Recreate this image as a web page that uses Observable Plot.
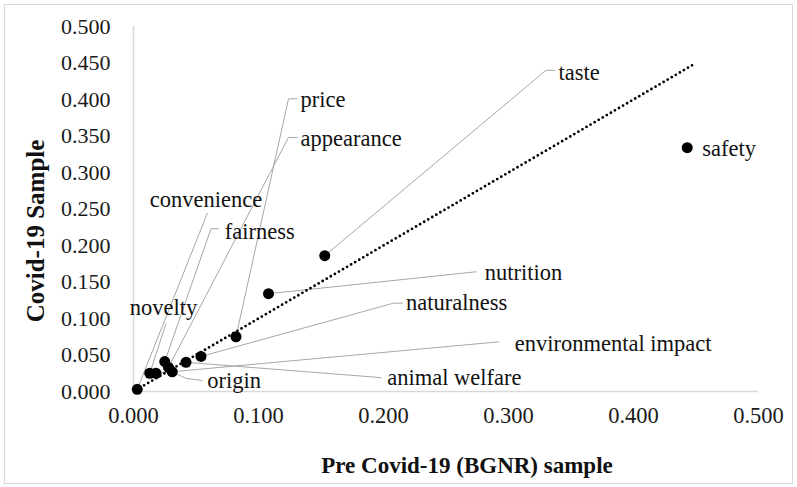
<!DOCTYPE html>
<html><head><meta charset="utf-8">
<script src="https://cdn.jsdelivr.net/npm/d3@7"></script>
<script src="https://cdn.jsdelivr.net/npm/@observablehq/plot@0.6"></script>
<style>
html,body{margin:0;padding:0;background:#fff;overflow:hidden;}
#wrap{position:relative;width:797px;height:487px;}
#border{position:absolute;left:4px;top:4px;width:789px;height:480px;border:1px solid #d9d9d9;box-sizing:border-box;pointer-events:none;}
</style></head><body><div id="wrap"><div id="border"></div></div>
<script>
// --- data ---
const attributes = ["safety","taste","nutrition","price","naturalness","animal welfare","fairness","appearance","origin","environmental impact","novelty","convenience"];
const preCovidShare = [0.443,0.153,0.108,0.082,0.054,0.042,0.025,0.028,0.031,0.018,0.013,0.003];
const covidShare    = [0.334,0.186,0.134,0.075,0.048,0.040,0.041,0.033,0.027,0.025,0.025,0.003];
// label anchor positions (data units)
const labelX = [0.455,0.340,0.281,0.1336,0.218,0.203,0.073,0.1336,0.059,0.305,0.024,0.058];
const labelY = [0.333,0.437,0.162,0.399,0.121,0.019,0.219,0.346,0.014,0.066,0.114,0.262];
// leader line bend and end points (data units); null = none
const leaderBendX = [null,0.330,null,0.124,0.208,null,0.062,0.124,0.042,null,null,null];
const leaderBendY = [null,0.440,null,0.401,0.121,null,0.223,0.348,0.018,null,null,null];
const leaderEndX  = [null,0.337,0.274,0.131,0.215,0.198,0.068,0.131,0.055,0.292,0.026,0.059];
const leaderEndY  = [null,0.440,0.164,0.401,0.121,0.019,0.223,0.348,0.015,0.068,0.093,0.244];
const centeredLabels = ["novelty","convenience"];
// dotted y = x reference line extent
const diagonalExtent = [0.002, 0.447];
// tick values
const xTickValues = [0,0.1,0.2,0.3,0.4,0.5];
const yTickValues = [0,0.05,0.1,0.15,0.2,0.25,0.3,0.35,0.4,0.45,0.5];

// --- derived tables ---
const points = attributes.map((a,i)=>({a, x:preCovidShare[i], y:covidShare[i]}));
const leaders = [];
attributes.forEach((a,i)=>{
  if (leaderEndX[i]==null) return;
  leaders.push({a, x:preCovidShare[i], y:covidShare[i]});
  if (leaderBendX[i]!=null) leaders.push({a, x:leaderBendX[i], y:leaderBendY[i]});
  leaders.push({a, x:leaderEndX[i], y:leaderEndY[i]});
});
const labels = attributes.map((a,i)=>({a, x:labelX[i], y:labelY[i]}));
const diagonal = diagonalExtent.map(v=>({x:v,y:v}));

const font = "'Liberation Serif','Times New Roman',serif";
const chart = Plot.plot({
  width: 797, height: 487,
  marginLeft: 133, marginRight: 39, marginTop: 26, marginBottom: 96,
  style: {fontFamily: font, fontSize: "22px", color: "#1a1a1a", background: "transparent"},
  x: {domain:[0,0.5]},
  y: {domain:[0,0.5]},
  marks: [
    Plot.ruleY([0], {stroke:"#d9d9d9", strokeWidth:1.5}),
    Plot.ruleX([0], {stroke:"#d9d9d9", strokeWidth:1.5}),
    Plot.axisX(xTickValues, {tickSize:0, tickPadding:16, tickFormat:d3.format(".3f"), fontSize:22.5, label:null}),
    Plot.axisY(yTickValues, {tickSize:0, tickPadding:23, tickFormat:d3.format(".3f"), fontSize:22, label:null}),
    Plot.line(leaders, {x:"x", y:"y", z:"a", stroke:"#a6a6a6", strokeWidth:1}),
    Plot.line(diagonal, {x:"x", y:"y", stroke:"black", strokeWidth:2.8, strokeDasharray:"0,4.7", strokeLinecap:"round"}),
    Plot.dot(points, {x:"x", y:"y", r:5.5, fill:"black", stroke:"none"}),
    Plot.text(labels.filter(d=>!centeredLabels.includes(d.a)), {x:"x", y:"y", text:"a", textAnchor:"start", fontSize:22.5, fill:"#111"}),
    Plot.text(labels.filter(d=>centeredLabels.includes(d.a)), {x:"x", y:"y", text:"a", textAnchor:"middle", fontSize:22.5, fill:"#111"}),
    Plot.text(["Pre Covid-19 (BGNR) sample"], {frameAnchor:"bottom", textAnchor:"middle", lineAnchor:"middle", dx:21, dy:74, fontSize:23, fontWeight:"bold", fill:"#111"}),
    Plot.text(["Covid-19 Sample"], {frameAnchor:"left", textAnchor:"middle", lineAnchor:"middle", dx:-98, dy:22, rotate:-90, fontSize:25, fontWeight:"bold", fill:"#111"})
  ]
});
chart.style.position = "absolute";
chart.style.left = "0px";
chart.style.top = "0px";
document.getElementById("wrap").appendChild(chart);
</script>
</body></html>
